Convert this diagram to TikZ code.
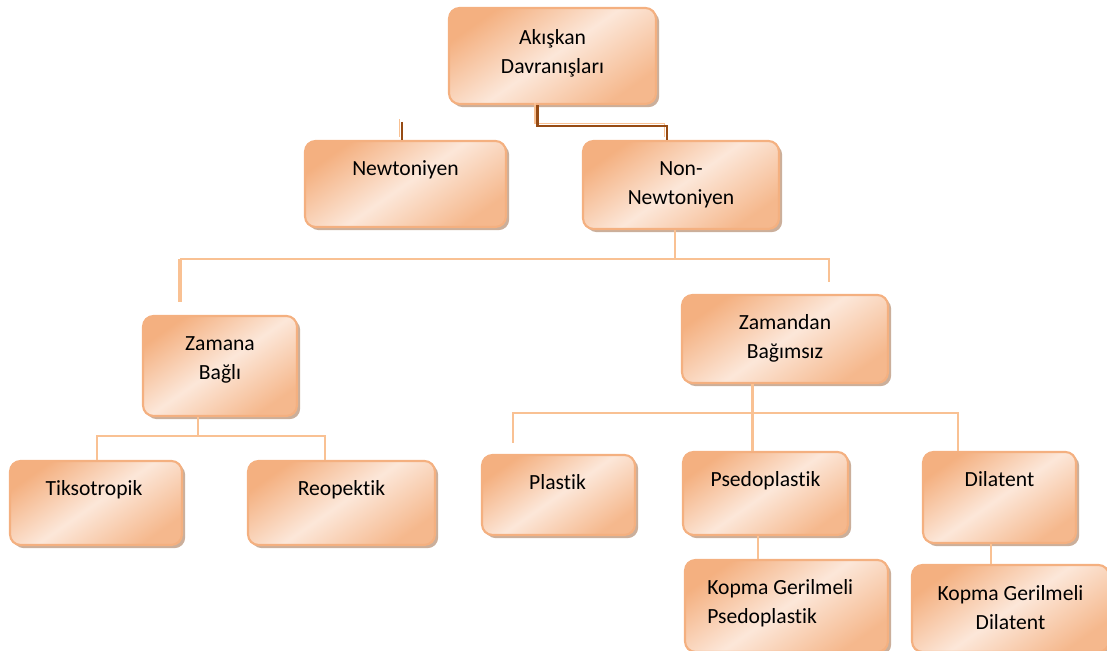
\documentclass[tikz,border=0pt]{standalone}
\usepackage{fontspec}
\setmainfont{Carlito}[Ligatures=NoCommon]
\usetikzlibrary{calc,shadows}

\definecolor{peachdark}{RGB}{244,176,128}
\definecolor{peachlight}{RGB}{252,231,217}
\definecolor{peachline}{RGB}{249,193,147}
\definecolor{boxshadow}{RGB}{190,155,130}
\definecolor{linkbrown}{RGB}{150,75,20}

\tikzset{
  box/.style={rounded corners=6pt, draw=peachdark, line width=1.2pt,
    top color=peachdark, bottom color=peachdark!90, middle color=peachlight,
    shading angle=35,
    drop shadow={shadow xshift=1.8pt, shadow yshift=-1.8pt, fill=boxshadow, opacity=.8}},
  boxtext/.style={anchor=north, align=center, inner sep=0pt,
    font=\fontsize{12.3}{16.5}\selectfont},
  conn/.style={draw=peachline, line width=1.6pt},
  brownlink/.style={draw=linkbrown, line width=1.3pt},
  underlink/.style={draw=peachline, line width=1pt,
    transform canvas={shift={(-1.4pt,1.4pt)}}},
}

\begin{document}
\begin{tikzpicture}[x=0.02cm, y=-0.02cm]
\useasboundingbox (0,0) rectangle (1107,651);

% boxes
\node[box, minimum width=4.14cm, minimum height=1.92cm] (akis) at (552.5,56) {};
\node[boxtext] (akis-t) at ($(akis.north)+(0,22)$) {Akışkan\\Davranışları};

\node[box, minimum width=4.02cm, minimum height=1.72cm] (newt) at (405.5,184) {};
\node[boxtext] (newt-t) at ($(newt.north)+(0,20)$) {Newtoniyen};

\node[box, minimum width=3.92cm, minimum height=1.76cm] (nonnewt) at (681,185) {};
\node[boxtext] (nonnewt-t) at ($(nonnewt.north)+(0,21)$) {Non-\\Newtoniyen};

\node[box, minimum width=3.08cm, minimum height=2cm] (zamana) at (220,366) {};
\node[boxtext] (zamana-t) at ($(zamana.north)+(0,21)$) {Zamana\\Bağlı};

\node[box, minimum width=4.12cm, minimum height=1.76cm] (zamandan) at (785,339) {};
\node[boxtext] (zamandan-t) at ($(zamandan.north)+(0,20)$) {Zamandan\\Bağımsız};

\node[box, minimum width=3.44cm, minimum height=1.68cm] (tikso) at (96,503) {};
\node[boxtext] (tikso-t) at ($(tikso.north)+(-2,20)$) {Tiksotropik};

\node[box, minimum width=3.74cm, minimum height=1.68cm] (reo) at (341.5,503) {};
\node[boxtext] (reo-t) at ($(reo.north)+(0,20)$) {Reopektik};

\node[box, minimum width=3.06cm, minimum height=1.6cm] (plastik) at (558.5,495) {};
\node[boxtext] (plastik-t) at ($(plastik.north)+(-1,20)$) {Plastik};

\node[box, minimum width=3.3cm, minimum height=1.66cm] (psedo) at (765.5,493.5) {};
\node[boxtext] (psedo-t) at ($(psedo.north)+(0,20)$) {Psedoplastik};

\node[box, minimum width=3.06cm, minimum height=1.82cm] (dila) at (999.5,497.5) {};
\node[boxtext] (dila-t) at ($(dila.north)+(0,20)$) {Dilatent};

\node[box, minimum width=4.06cm, minimum height=1.84cm] (kgpsedo) at (786.5,606) {};
\node[boxtext, anchor=north west, align=left] (kgpsedo-t) at ($(kgpsedo.north west)+(23,20)$) {Kopma Gerilmeli\\Psedoplastik};

\node[box, minimum width=3.94cm, minimum height=1.74cm] (kgdila) at (1010.5,608.5) {};
\node[boxtext] (kgdila-t) at ($(kgdila.north)+(0,21)$) {Kopma Gerilmeli\\Dilatent};

% brown links at the top
\coordinate (bl1) at ($(akis.south)+(-15,0)$);
\coordinate (bl2) at ($(nonnewt.north)+(-14,0)$);
\draw[underlink] (bl1) -- ++(0,21) -| (bl2);
\draw[brownlink] (bl1) -- ++(0,21) -| (bl2);
\coordinate (ns) at ($(newt.north)+(-3.5,-18)$);
\draw[underlink] (ns) -- (ns |- newt.north);
\draw[brownlink] (ns) -- (ns |- newt.north);

% Non-Newtoniyen branch
\draw[conn] ($(nonnewt.south)+(-6,0)$) -- ++(0,29) coordinate (nj);
\coordinate (zl) at (180,302);
\coordinate (zr) at (829,282);
\draw[conn] (zr) -- (zr |- nj) -- (zl |- nj);
\draw[conn, line width=2.6pt] (zl |- nj) -- (zl);

% Zamana Bagli branch
\draw[conn] ($(zamana.south)+(-22,0)$) -- ++(0,19) coordinate (zj);
\coordinate (tt) at ($(tikso.north)+(1,0)$);
\coordinate (rt) at ($(reo.north)+(-16.5,0)$);
\draw[conn] (tt) -- (tt |- zj) -- (rt |- zj) -- (rt);

% Zamandan Bagimsiz branch
\coordinate (pt) at ($(psedo.north)+(-13,0)$);
\draw[conn] (pt |- zamandan.south) -- (pt);
\coordinate (pl) at (513,443);
\coordinate (dt) at ($(dila.north)+(-41.5,0)$);
\draw[conn] (pl) -- (pl |- 0,413) -- (dt |- 0,413) -- (dt);

\draw[conn] ($(psedo.south)+(-7.5,0)$) -- ($(kgpsedo.north)+(-28.5,0)$);
\draw[conn] ($(dila.south)+(-8.5,0)$) -- ($(kgdila.north)+(-19.5,0)$);
\end{tikzpicture}
\end{document}
